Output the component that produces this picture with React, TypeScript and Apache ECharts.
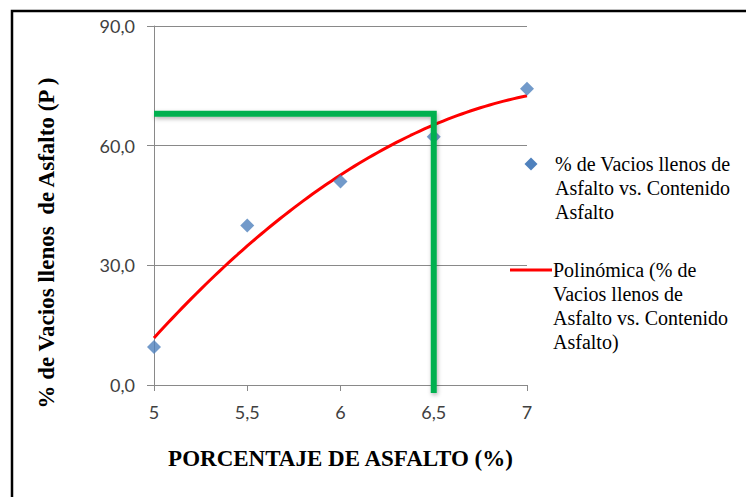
import React, { useEffect, useRef } from "react";
import * as echarts from "echarts";

// Asphalt content (%) and voids filled with asphalt (%)
const asphaltContent = [5, 5.5, 6, 6.5, 7];
const vfaValues = [9.5, 40, 51, 62.25, 74.25];

// Design reading taken from the trend curve
const guideX = 6.5;
const guideY = 68;
const guideBottom = -2;

// Axis ranges
const xMin = 5;
const xMax = 7;
const xStep = 0.5;
const yMin = 0;
const yMax = 90;
const yStep = 30;

const scatterName = "% de Vacios llenos de Asfalto vs. Contenido Asfalto";
const trendName = "Polinómica (% de Vacios llenos de Asfalto vs. Contenido Asfalto)";
const scatterLegendLines = ["% de Vacios llenos de", "Asfalto vs. Contenido", "Asfalto"];
const trendLegendLines = ["Polinómica (% de", "Vacios llenos de", "Asfalto vs. Contenido", "Asfalto)"];
const xTitle = "PORCENTAJE DE ASFALTO (%)";
const yTitle = "% de Vacios llenos  de Asfalto (P )";

const fmtX = (v: number) => String(v).replace(".", ",");
const fmtY = (v: number) => v.toFixed(1).replace(".", ",");

// Second-order least-squares fit (same as a polynomial trendline)
function quadraticFit(xs: number[], ys: number[]) {
  let s0 = 0, s1 = 0, s2 = 0, s3 = 0, s4 = 0, t0 = 0, t1 = 0, t2 = 0;
  xs.forEach((x, i) => {
    const y = ys[i];
    s0 += 1; s1 += x; s2 += x * x; s3 += x * x * x; s4 += x * x * x * x;
    t0 += y; t1 += x * y; t2 += x * x * y;
  });
  const det3 = (m: number[][]) =>
    m[0][0] * (m[1][1] * m[2][2] - m[1][2] * m[2][1]) -
    m[0][1] * (m[1][0] * m[2][2] - m[1][2] * m[2][0]) +
    m[0][2] * (m[1][0] * m[2][1] - m[1][1] * m[2][0]);
  const A = [
    [s0, s1, s2],
    [s1, s2, s3],
    [s2, s3, s4],
  ];
  const b = [t0, t1, t2];
  const D = det3(A);
  const coef = [0, 1, 2].map((k) => {
    const M = A.map((row, r) => row.map((v, c) => (c === k ? b[r] : v)));
    return det3(M) / D;
  });
  return (x: number) => coef[0] + coef[1] * x + coef[2] * x * x;
}

const trend = quadraticFit(asphaltContent, vfaValues);
const trendData: number[][] = [];
for (let i = 0; i <= 80; i++) {
  const x = xMin + ((xMax - xMin) * i) / 80;
  trendData.push([x, trend(x)]);
}

const tickFont = "Lato, 'Open Sans', sans-serif";
const serifFont = "'Liberation Serif', 'DejaVu Serif', serif";
const gridGray = "#898989";

export default function App() {
  const ref = useRef<HTMLDivElement>(null);

  useEffect(() => {
    if (!ref.current) return;
    const chart = echarts.init(ref.current, null, { renderer: "svg" });

    const option: echarts.EChartsOption = {
      animation: false,
      backgroundColor: "#ffffff",
      grid: { left: 154, right: 219, top: 26, bottom: 112, containLabel: false },
      xAxis: {
        type: "value",
        min: xMin,
        max: xMax,
        interval: xStep,
        name: xTitle,
        nameLocation: "middle",
        nameGap: 62,
        nameTextStyle: { fontFamily: serifFont, fontWeight: "bold", fontSize: 23, color: "#000" },
        axisLine: { show: true, lineStyle: { color: gridGray, width: 1 } },
        axisTick: { show: true, length: 6, lineStyle: { color: gridGray } },
        axisLabel: {
          margin: 18,
          formatter: (v: number) => fmtX(v),
          fontFamily: tickFont,
          fontSize: 18,
          color: "#404040",
        },
        splitLine: { show: false },
      },
      yAxis: {
        type: "value",
        min: yMin,
        max: yMax,
        interval: yStep,
        name: yTitle,
        nameLocation: "middle",
        nameGap: 96,
        nameTextStyle: {
          fontFamily: serifFont,
          fontWeight: "bold",
          fontSize: 23,
          color: "#000",
          padding: [0, 75, 0, 0],
        },
        axisLine: { show: true, lineStyle: { color: gridGray, width: 1 } },
        axisTick: { show: true, length: 7, lineStyle: { color: gridGray } },
        axisLabel: {
          margin: 19,
          formatter: (v: number) => fmtY(v),
          fontFamily: tickFont,
          fontSize: 18,
          color: "#404040",
        },
        splitLine: { show: true, lineStyle: { color: gridGray, width: 1 } },
      },
      series: [
        {
          name: trendName,
          type: "line",
          data: trendData,
          symbol: "none",
          lineStyle: { color: "#ff0000", width: 3 },
          z: 3,
        },
        {
          name: scatterName,
          type: "scatter",
          data: asphaltContent.map((x, i) => [x, vfaValues[i]]),
          symbol: "diamond",
          symbolSize: 14,
          itemStyle: { color: "#4f81bd" },
          z: 4,
        },
        {
          name: "guide",
          type: "line",
          clip: false,
          symbol: "none",
          data: [
            {
              value: [xMin, guideY],
              label: {
                show: true,
                position: "left",
                distance: 19,
                formatter: () => fmtY(guideY),
                fontFamily: tickFont,
                fontSize: 18,
                color: "#404040",
              },
            },
            { value: [guideX, guideY] },
            { value: [guideX, guideBottom] },
          ],
          lineStyle: {
            color: "#00b050",
            width: 6,
            join: "miter",
            shadowColor: "rgba(0,0,0,0.3)",
            shadowBlur: 4,
            shadowOffsetX: 1,
            shadowOffsetY: 2,
          },
          z: 5,
        },
      ],
      graphic: [
        {
          type: "rect",
          silent: true,
          shape: { x: 12, y: 11, width: 780, height: 540 },
          style: { fill: "none", stroke: "#000", lineWidth: 2.5 },
        },
        {
          type: "polygon",
          silent: true,
          shape: { points: [[531, 157.5], [537.5, 164], [531, 170.5], [524.5, 164]] },
          style: { fill: "#4f81bd" },
        },
        {
          type: "text",
          silent: true,
          x: 555,
          y: 152,
          style: {
            text: scatterLegendLines.join("\n"),
            font: `20px ${serifFont}`,
            lineHeight: 24,
            fill: "#000",
            verticalAlign: "top",
          },
        },
        {
          type: "line",
          silent: true,
          shape: { x1: 510, y1: 270, x2: 552, y2: 270 },
          style: { stroke: "#ff0000", lineWidth: 3 },
        },
        {
          type: "text",
          silent: true,
          x: 553,
          y: 258,
          style: {
            text: trendLegendLines.join("\n"),
            font: `20px ${serifFont}`,
            lineHeight: 24,
            fill: "#000",
            verticalAlign: "top",
          },
        },
      ],
    };

    chart.setOption(option);
    return () => chart.dispose();
  }, []);

  return (
    <div
      ref={ref}
      style={{ position: "fixed", left: 0, top: 0, width: 746, height: 497, background: "#fff" }}
    />
  );
}
